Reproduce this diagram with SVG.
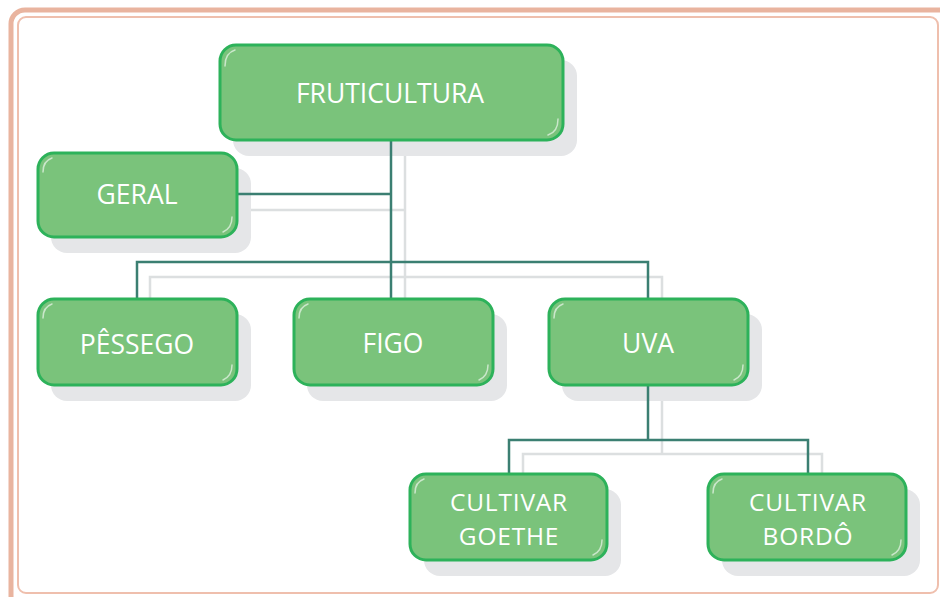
<svg xmlns="http://www.w3.org/2000/svg" width="940" height="597" viewBox="0 0 940 597">
<style>
.sh{fill:#e5e6e8}
.shl{fill:none;stroke:#dcdfe0;stroke-width:2.5}
.con{fill:none;stroke:#3b7f72;stroke-width:2.5}
.box{fill:#7ac37b;stroke:#2db25a;stroke-width:3}
.hl{fill:none;stroke:#ffffff;stroke-opacity:0.6;stroke-width:1.5;stroke-linecap:round}
.t{font-family:"Open Sans","Liberation Sans",sans-serif;font-size:26.5px;fill:#ffffff;text-anchor:middle}
.t2{font-size:24.5px;letter-spacing:0.8px}
</style>
<rect width="940" height="597" fill="#ffffff"/>
<g id="frame">
<rect x="11" y="10" width="960" height="600" rx="14" fill="none" stroke="#e9b49f" stroke-width="5"/>
<rect x="18" y="17" width="920" height="576" rx="8" fill="none" stroke="#efbfad" stroke-width="2"/>
</g>
<g id="shadows">
<polyline class="shl" points="405,140 405,298"/>
<polyline class="shl" points="251,210 405,210"/>
<polyline class="shl" points="150,298 150,277 662,277 662,298"/>
<polyline class="shl" points="662,385 662,454"/>
<polyline class="shl" points="523,473 523,454 822,454 822,473"/>
<rect class="sh" x="233" y="60" width="344" height="96" rx="16"/>
<rect class="sh" x="51" y="168" width="200" height="85" rx="16"/>
<rect class="sh" x="51" y="314" width="200" height="87" rx="16"/>
<rect class="sh" x="307" y="314" width="200" height="87" rx="16"/>
<rect class="sh" x="562" y="314" width="200" height="87" rx="16"/>
<rect class="sh" x="424" y="489" width="197" height="87" rx="16"/>
<rect class="sh" x="722" y="489" width="198" height="87" rx="16"/>
</g>
<g id="connectors">
<polyline class="con" points="391,140 391,298"/>
<polyline class="con" points="237,194 391,194"/>
<polyline class="con" points="137,298 137,262 648,262 648,298"/>
<polyline class="con" points="648,385 648,440"/>
<polyline class="con" points="509,473 509,440 808,440 808,473"/>
</g>
<g id="fruticultura">
<rect class="box" x="220" y="45" width="343" height="95" rx="16"/>
<path class="hl" d="M225,66 Q225,53 235,50"/>
<path class="hl" d="M558,119 Q558,132 548,135"/>
<text class="t" x="390" y="103">FRUTICULTURA</text>
</g>
<g id="geral">
<rect class="box" x="38" y="153" width="199" height="84" rx="16"/>
<path class="hl" d="M43,172 Q43,161 52,158"/>
<path class="hl" d="M232,217 Q232,228 223,232"/>
<text class="t" x="137" y="204">GERAL</text>
</g>
<g id="pessego">
<rect class="box" x="38" y="299" width="199" height="86" rx="16"/>
<path class="hl" d="M43,318 Q43,307 52,304"/>
<path class="hl" d="M232,365 Q232,376 223,380"/>
<text class="t" x="137" y="354">PÊSSEGO</text>
</g>
<g id="figo">
<rect class="box" x="294" y="299" width="199" height="86" rx="16"/>
<path class="hl" d="M299,318 Q299,307 308,304"/>
<path class="hl" d="M488,365 Q488,376 479,380"/>
<text class="t" x="393" y="353">FIGO</text>
</g>
<g id="uva">
<rect class="box" x="549" y="299" width="199" height="86" rx="16"/>
<path class="hl" d="M554,318 Q554,307 563,304"/>
<path class="hl" d="M743,365 Q743,376 734,380"/>
<text class="t" x="648" y="353">UVA</text>
</g>
<g id="cultivar-goethe">
<rect class="box" x="410" y="474" width="197" height="86" rx="16"/>
<path class="hl" d="M415,493 Q415,482 424,479"/>
<path class="hl" d="M602,540 Q602,551 593,555"/>
<text class="t t2" x="509" y="511">CULTIVAR</text>
<text class="t t2" x="509" y="544.5">GOETHE</text>
</g>
<g id="cultivar-bordo">
<rect class="box" x="708" y="474" width="198" height="86" rx="16"/>
<path class="hl" d="M713,493 Q713,482 722,479"/>
<path class="hl" d="M901,540 Q901,551 892,555"/>
<text class="t t2" x="808" y="511">CULTIVAR</text>
<text class="t t2" x="808" y="544.5">BORDÔ</text>
</g>
</svg>
